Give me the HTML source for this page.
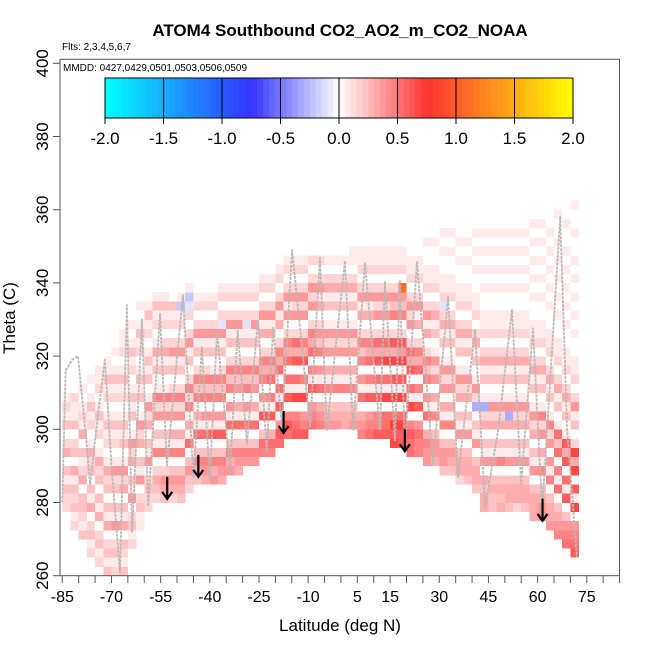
<!DOCTYPE html>
<html><head><meta charset="utf-8"><style>
html,body{margin:0;padding:0;background:#fff;}
svg{display:block;font-family:"Liberation Sans",Arial,sans-serif;}
</style></head><body>
<svg id="chart" width="650" height="650" viewBox="0 0 650 650" xmlns="http://www.w3.org/2000/svg">
<rect x="0" y="0" width="650" height="650" fill="#fff"/>
<text x="340" y="36" text-anchor="middle" font-size="17" font-weight="bold">ATOM4 Southbound CO2_AO2_m_CO2_NOAA</text>
<text x="62" y="50" font-size="10">Flts: 2,3,4,5,6,7</text>
<g id="cells"></g>
<g id="traces"></g>
<g id="arrows"></g>
<rect x="60" y="59.3" width="559.5" height="516.4" fill="none" stroke="#555" stroke-width="1"/>
<text x="63" y="71" font-size="10">MMDD: 0427,0429,0501,0503,0506,0509</text>
<g id="colorbar"></g>
<g id="xaxis"></g>
<g id="yaxis"></g>
<text x="340" y="631" text-anchor="middle" font-size="17">Latitude (deg N)</text>
<text transform="translate(15,318) rotate(-90)" text-anchor="middle" font-size="17">Theta (C)</text>
</svg>
<script>
const colLat=[-83.75,-81.25,-78.75,-76.25,-73.75,-71.25,-68.75,-66.25,-63.75,-61.25,-58.75,-56.25,-53.75,-51.25,-48.75,-46.25,-43.75,-41.25,-38.75,-36.25,-33.75,-31.25,-28.75,-26.25,-23.75,-21.25,-18.75,-16.25,-13.75,-11.25,-8.75,-6.25,-3.75,-1.25,1.25,3.75,6.25,8.75,11.25,13.75,16.25,18.75,21.25,23.75,26.25,28.75,31.25,33.75,36.25,38.75,41.25,43.75,46.25,48.75,51.25,53.75,56.25,58.75,61.25,63.75,66.25,68.75,71.25];
const colBottom=[277.5,272.5,270,265,262.5,260,260,260,267.5,272.5,277.5,280,280,280,280,282.5,285,285,285,285,287.5,287.5,290,290,292.5,292.5,295,297.5,297.5,297.5,300,300,300,300,300,300,297.5,297.5,297.5,297.5,295,295,292.5,292.5,290,290,287.5,287.5,285,285,282.5,277.5,277.5,277.5,277.5,277.5,277.5,275,275,272.5,270,267.5,265];
const colValues=["22313042031210","21323140320311200","3123304213041210100","2132041303241021310100","213204130324102131021100","31320413032410213102131100","213205130325102131021310100","31230413042510313102131021100","213205130425103131021310100","1132051304251031310213101","22320513042510313102131","23420613052610314102131","34520613052610314202131","24530614052620315202130","345306140526203152021b10","23530714062620315202ab1","3463071406362031520210","4563071506362031520210","5463081506361031520210","45630815063620315a20210","5463071506362031520210","4563071405362031520210","563071506362031a20210","563071405362031520210","673081506462041520210","674081607462041520210","78508170746204152021","78608170746205152021","87609170847205252021","86509160846205252021","7650816074620525202","6540715063520415202","5430614052510314201","5430614052510314201","4430614052510314201","54306140525103142011","654071506362041520211","765081607462041520211","866081708472052520211","877091709472052520211","98A70918094820635202110","88970918095820635B02110","778609170847205252021100","667508160746204152021100","55640715063620415202110010","45530614052510314202110010","355306140525103142a21100101","345306140525103142021100101","2443051304251031420211001010","3443051304251031420211001010","344305130c25103142021100101010","44340513042c10314202110010101010","33430513042510314202110010101010","43430613042510314202110010101010","3443051304c510314202110010101010","24430513042510314202110010101010","34430513042510314202110010101010","4443051304251031420211001010101010","5543061405261031420211001010101010","54430615052610314202110010101010100","654307160737103142021100101010101001","7653081708481031420211001010101010010","876509180949203152021100101010101001001","8765491807391012"];
const traceLat=[-85,-84,-82,-80.2,-78,-76.5,-74,-72,-70,-67.4,-65.3,-63.7,-60.7,-58.8,-55.2,-53.1,-48.2,-45,-42.4,-40,-37.8,-33.8,-31.5,-28.7,-25.3,-22.6,-20.7,-18,-14.9,-9.4,-6.4,-4.3,1.2,3.7,7.3,11.9,13.4,16.5,18,19.5,23.2,28.1,32.7,35.7,40.9,44,48,52.2,55,58.6,61.4,66.9,69,72];
const traceTheta=[280,316,319,320,300,285,305,319,290,261,334,272,330,279,331.6,290,336.7,287,322.5,286,326.5,289,327,296,330,294,328,300.6,349,300.6,346.8,299.8,346,299.8,345.4,299.8,340.3,297,340.8,295,345.7,290.7,336.2,287,327.2,278.8,300,332.6,285,327.6,278,358,300,265];
const arrowLat=[-53,-43.5,-17.5,19.5,61.5];
const arrowTheta=[281,287,299,294,275];
const cbTicks=[-2.0,-1.5,-1.0,-0.5,0.0,0.5,1.0,1.5,2.0];
const yTicks=[260,280,300,320,340,360,380,400];
const xTickLabels=[-85,-70,-55,-40,-25,-10,5,15,30,45,60,75];

const NS="http://www.w3.org/2000/svg";
function xs(lat){return 62.3+(lat+85)*3.278;}
function ys(th){return 575.7-(th-260)*3.66;}
function mk(tag,attrs,parent){const e=document.createElementNS(NS,tag);for(const k in attrs)e.setAttribute(k,attrs[k]);parent.appendChild(e);return e;}
function charVal(c){
  if(c>='0'&&c<='9')return (+c)*0.075;
  if(c==='A')return 0.85;
  if(c==='B')return 1.1;
  return -0.1*(c.charCodeAt(0)-96);
}
function col(v){
  let r,g,b;
  if(v>=0){
    if(v<=0.75){const t=v/0.75;r=255;g=255-204*t;b=255-204*t;}
    else{const t=Math.min(1,(v-0.75)/1.25);r=255;g=51+204*t;b=51-51*t;}
  }else{
    const a=-v;
    if(a<=0.75){const t=a/0.75;r=255-204*t;g=255-204*t;b=255;}
    else{const t=Math.min(1,(a-0.75)/1.25);r=51-51*t;g=51+204*t;b=255;}
  }
  return `rgb(${Math.round(r)},${Math.round(g)},${Math.round(b)})`;
}
const cells=document.getElementById('cells');
colLat.forEach((lat,i)=>{
  const s=colValues[i]||"";
  for(let j=0;j<s.length;j++){
    const v=charVal(s[j]);
    const th0=colBottom[i]+2.5*j;
    const x0=Math.max(60.5,xs(lat-1.25)),x1=Math.min(619,xs(lat+1.25));
    const r=mk('rect',{x:x0,y:ys(th0+2.5),width:x1-x0+0.3,height:ys(th0)-ys(th0+2.5)+0.3,fill:col(v),'shape-rendering':'crispEdges'},cells);
    
    
  }
});
const tr=document.getElementById('traces');
let d='';
traceLat.forEach((lat,i)=>{d+=(i?'L':'M')+xs(lat).toFixed(1)+','+ys(traceTheta[i]).toFixed(1);});
const pl=mk('path',{d:d,fill:'none',stroke:'#b8b8b8','stroke-width':1.8,'stroke-dasharray':'3,1','stroke-linejoin':'round'},tr);


const ar=document.getElementById('arrows');
arrowLat.forEach((lat,i)=>{
  const x=xs(lat),y=ys(arrowTheta[i]);
  const g=mk('path',{d:`M${x},${y-22}L${x},${y}M${x-5},${y-7}L${x},${y}L${x+5},${y-7}`,fill:'none',stroke:'#000','stroke-width':2.2},ar);
  
  
});
const cb=document.getElementById('colorbar');
const cbx0=105,cbx1=573,cby0=78,cby1=118;
function cx(v){return cbx0+(v+2)/4*(cbx1-cbx0);}
for(let k=0;k<80;k++){
  const v0=-2+k*0.05;
  const r=mk('rect',{x:cx(v0),y:cby0,width:cx(v0+0.05)-cx(v0)+0.4,height:cby1-cby0,fill:col(v0+0.025),'shape-rendering':'crispEdges'},cb);
  
  
}
mk('rect',{x:cbx0,y:cby0,width:cbx1-cbx0,height:cby1-cby0,fill:'none',stroke:'#000','stroke-width':1},cb);
cbTicks.forEach(v=>{
  const x=cx(v);
  const l=mk('line',{x1:x,y1:cby0,x2:x,y2:cby1+6,stroke:'#000','stroke-width':1},cb);
  
  
  const t=mk('text',{x:x,y:144,'text-anchor':'middle','font-size':17},cb);
  t.textContent=v.toFixed(1);
  
  
});
const xa=document.getElementById('xaxis');
for(let lat=-85;lat<=85;lat+=5){
  const l=mk('line',{x1:xs(lat),y1:575.7,x2:xs(lat),y2:583,stroke:'#555','stroke-width':1},xa);
  
  
}
xTickLabels.forEach(v=>{
  const t=mk('text',{x:xs(v),y:602,'text-anchor':'middle','font-size':16},xa);
  t.textContent=String(v);
  
  
});
const ya=document.getElementById('yaxis');
yTicks.forEach(v=>{
  const y=ys(v);
  const l=mk('line',{x1:53,y1:y,x2:60,y2:y,stroke:'#555','stroke-width':1},ya);
  
  
  const t=mk('text',{transform:`translate(48,${y}) rotate(-90)`,'text-anchor':'middle','font-size':17},ya);
  t.textContent=String(v);
  
  
});
</script>
</body></html>
